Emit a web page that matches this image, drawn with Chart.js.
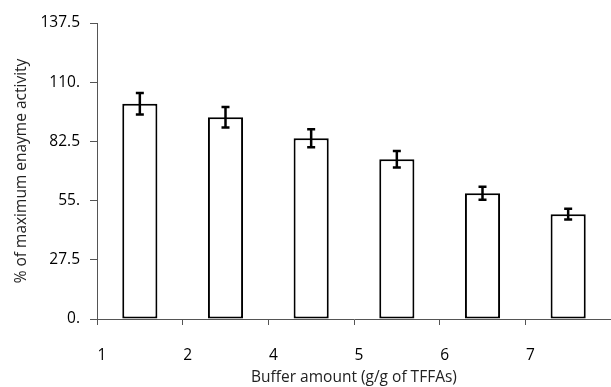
<!DOCTYPE html>
<html>
<head>
<meta charset="utf-8">
<script src="https://cdn.jsdelivr.net/npm/chart.js@4/dist/chart.umd.min.js"></script>
<style>
  html, body { margin: 0; padding: 0; background: #fff; }
  #wrap { width: 611px; height: 387px; }
</style>
</head>
<body>
<div id="wrap"><canvas id="chart"></canvas></div>
<script>
// значения
const xLabels = ['1', '2', '4', '5', '6', '7'];
const activity = [100, 93.7, 84, 74.2, 58.4, 48.7];
const errors = [5, 4.8, 4.2, 3.8, 3, 2.5];
const yTicks = ['0.', '27.5', '55.', '82.5', '110.', '137.5'];

const FONT = '"Open Sans", sans-serif';

// Планки погрешностей
const errorBars = {
    id: 'errorBars',
    afterDatasetsDraw(chart) {
        const ctx = chart.ctx;
        const y = chart.scales.y;
        const meta = chart.getDatasetMeta(0);
        ctx.save();
        ctx.strokeStyle = '#000';
        ctx.lineWidth = 2.5;
        meta.data.forEach((bar, i) => {
            const top = y.getPixelForValue(activity[i] + errors[i]);
            const bottom = y.getPixelForValue(activity[i] - errors[i]);
            ctx.beginPath();
            ctx.moveTo(bar.x, top);
            ctx.lineTo(bar.x, bottom);
            ctx.moveTo(bar.x - 4, top);
            ctx.lineTo(bar.x + 4, top);
            ctx.moveTo(bar.x - 4, bottom);
            ctx.lineTo(bar.x + 4, bottom);
            ctx.stroke();
        });
        ctx.restore();
    }
};

const chart = new Chart(document.getElementById('chart').getContext('2d'), {
    type: 'bar',
    data: {
        datasets: [{
            data: activity.map((v, i) => ({ x: i + 0.5, y: v })),
            backgroundColor: '#fff',
            borderColor: '#000',
            borderWidth: 2,
            borderSkipped: false,
            barPercentage: 0.41,
            categoryPercentage: 1
        }]
    },
    options: {
        responsive: true,
        maintainAspectRatio: false,
        animation: false,
        layout: { padding: { top: 23, right: 0, left: 0, bottom: 0 } },
        plugins: {
            legend: { display: false },
            tooltip: { enabled: false }
        },
        scales: {
            x: {
                type: 'linear',
                min: 0,
                max: 6,
                offset: false,
                afterFit: (s) => {
                    s.height = 68;
                    s.paddingLeft = 0;
                    s.paddingRight = 0;
                },
                border: { color: '#555' },
                grid: { display: true, offset: false, drawOnChartArea: false, drawTicks: true, tickLength: 6, color: '#555' },
                ticks: {
                    stepSize: 1,
                    padding: 21,
                    labelOffset: 5,
                    maxRotation: 0,
                    color: '#000',
                    font: { family: FONT, size: 15.5 },
                    callback: (v) => xLabels[v] ?? ''
                },
                title: {
                    display: true,
                    text: 'Buffer amount (g/g of TFFAs)',
                    color: '#222',
                    font: { family: FONT, size: 15.5 },
                    padding: { top: 0, bottom: 0 }
                }
            },
            y: {
                min: 0,
                max: 137.5,
                afterFit: (s) => { s.width = 97; },
                border: { color: '#555' },
                grid: { display: true, drawOnChartArea: false, drawTicks: true, tickLength: 7, color: '#555' },
                ticks: {
                    stepSize: 27.5,
                    padding: 10,
                    color: '#000',
                    font: { family: FONT, size: 15.5 },
                    callback: (v, i) => yTicks[i]
                },
                title: {
                    display: true,
                    text: '% of maximum enayme activity',
                    color: '#222',
                    font: { family: FONT, size: 15.5 },
                    padding: { top: 12, bottom: 0 }
                }
            }
        }
    },
    plugins: [errorBars]
});
</script>
</body>
</html>
